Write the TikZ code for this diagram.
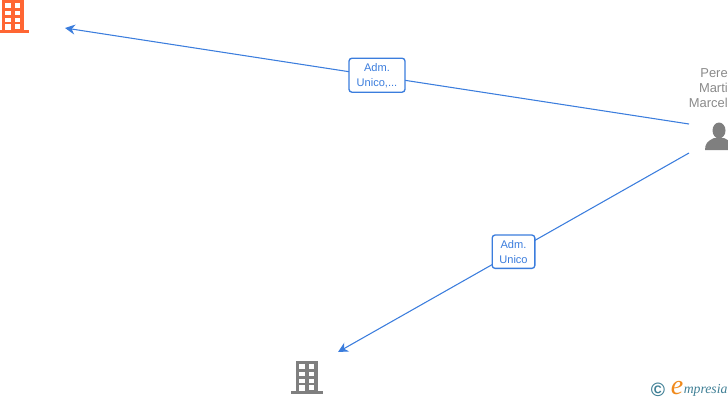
\documentclass[tikz,border=0pt]{standalone}
\usepackage{fontspec}
\setmainfont{Liberation Sans}
\newfontfamily\logofont{Liberation Serif}
\usetikzlibrary{arrows.meta}
\definecolor{linkblue}{HTML}{3B7DDD}
\definecolor{orangeicon}{HTML}{FF6633}
\definecolor{grayicon}{HTML}{7F7F7F}
\definecolor{labelgray}{HTML}{8A8A8A}
\definecolor{logoteal}{HTML}{3F7F95}
\definecolor{logoorange}{HTML}{F08A1D}
\tikzset{
  x=0.75pt,y=-0.75pt,
  link/.style={draw=linkblue,line width=0.8pt,-{Stealth[length=7.5pt,width=7.5pt]}},
  labelbox/.style={draw=linkblue,fill=white,line width=1pt,rounded corners=2.2pt,inner sep=0pt,
    align=center,text=linkblue,font=\fontsize{8.3pt}{11.25pt}\selectfont},
  personlabel/.style={text=labelgray,align=right,inner sep=0pt,anchor=north east,
    font=\fontsize{9.7pt}{11.25pt}\selectfont},
  pics/building/.style={code={
    \fill[#1] (5,0) rectangle (27,30);
    \fill[#1] (0,30) rectangle (32,33);
    \foreach \yy in {3.2,10.7,17.7}{
      \fill[white] (8.2,\yy) rectangle (13.8,\yy+4.4);
      \fill[white] (18,\yy) rectangle (23.4,\yy+4.4);
    }
    \fill[white] (8.2,24.3) rectangle (13.8,30);
    \fill[white] (18,24.3) rectangle (23.4,28.6);
  }}
}
\begin{document}
\begin{tikzpicture}
\useasboundingbox (0,0) rectangle (728,400);
\clip (0,0) rectangle (728,400);
\pic at (-3,0) {building=orangeicon};
\pic at (291,361) {building=grayicon};
% person
\fill[grayicon] (719,130.5) ellipse (6.5 and 8);
\fill[grayicon] (705,150) .. controls (705,143) and (708,141) .. (714,138)
  -- (724,138) .. controls (730,141) and (733,143) .. (733,150) -- cycle;
\node[personlabel] (person) at (728,68.5) {Pere\\Marti\\Marcel};
\coordinate (p1) at (689,124);
\coordinate (p2) at (689,153);
\coordinate (t1) at (65,28);
\coordinate (t2) at (338,352);
\draw[link] (p1) -- node[labelbox,minimum width=42pt,minimum height=25.5pt,yshift=0.6pt] (lab1) {Adm.\\Unico,...} (t1);
\draw[link] (p2) -- node[labelbox,minimum width=32pt,minimum height=25pt,yshift=0.6pt] (lab2) {Adm.\\Unico} (t2);
% logo
\node[text=logoteal,inner sep=0pt,font=\bfseries\fontsize{14.5pt}{14.5pt}\selectfont] (copy) at (658,389.5) {©};
\node[text=logoorange,inner sep=0pt,anchor=base west,font=\logofont\itshape\fontsize{21pt}{21pt}\selectfont] (logoe) at (670.5,394) {e};
\node[text=logoteal,inner sep=0pt,anchor=base west,font=\logofont\itshape\fontsize{10.3pt}{12pt}\selectfont] (logot) at (683.5,393.5) {mpresia};
\end{tikzpicture}
\end{document}
